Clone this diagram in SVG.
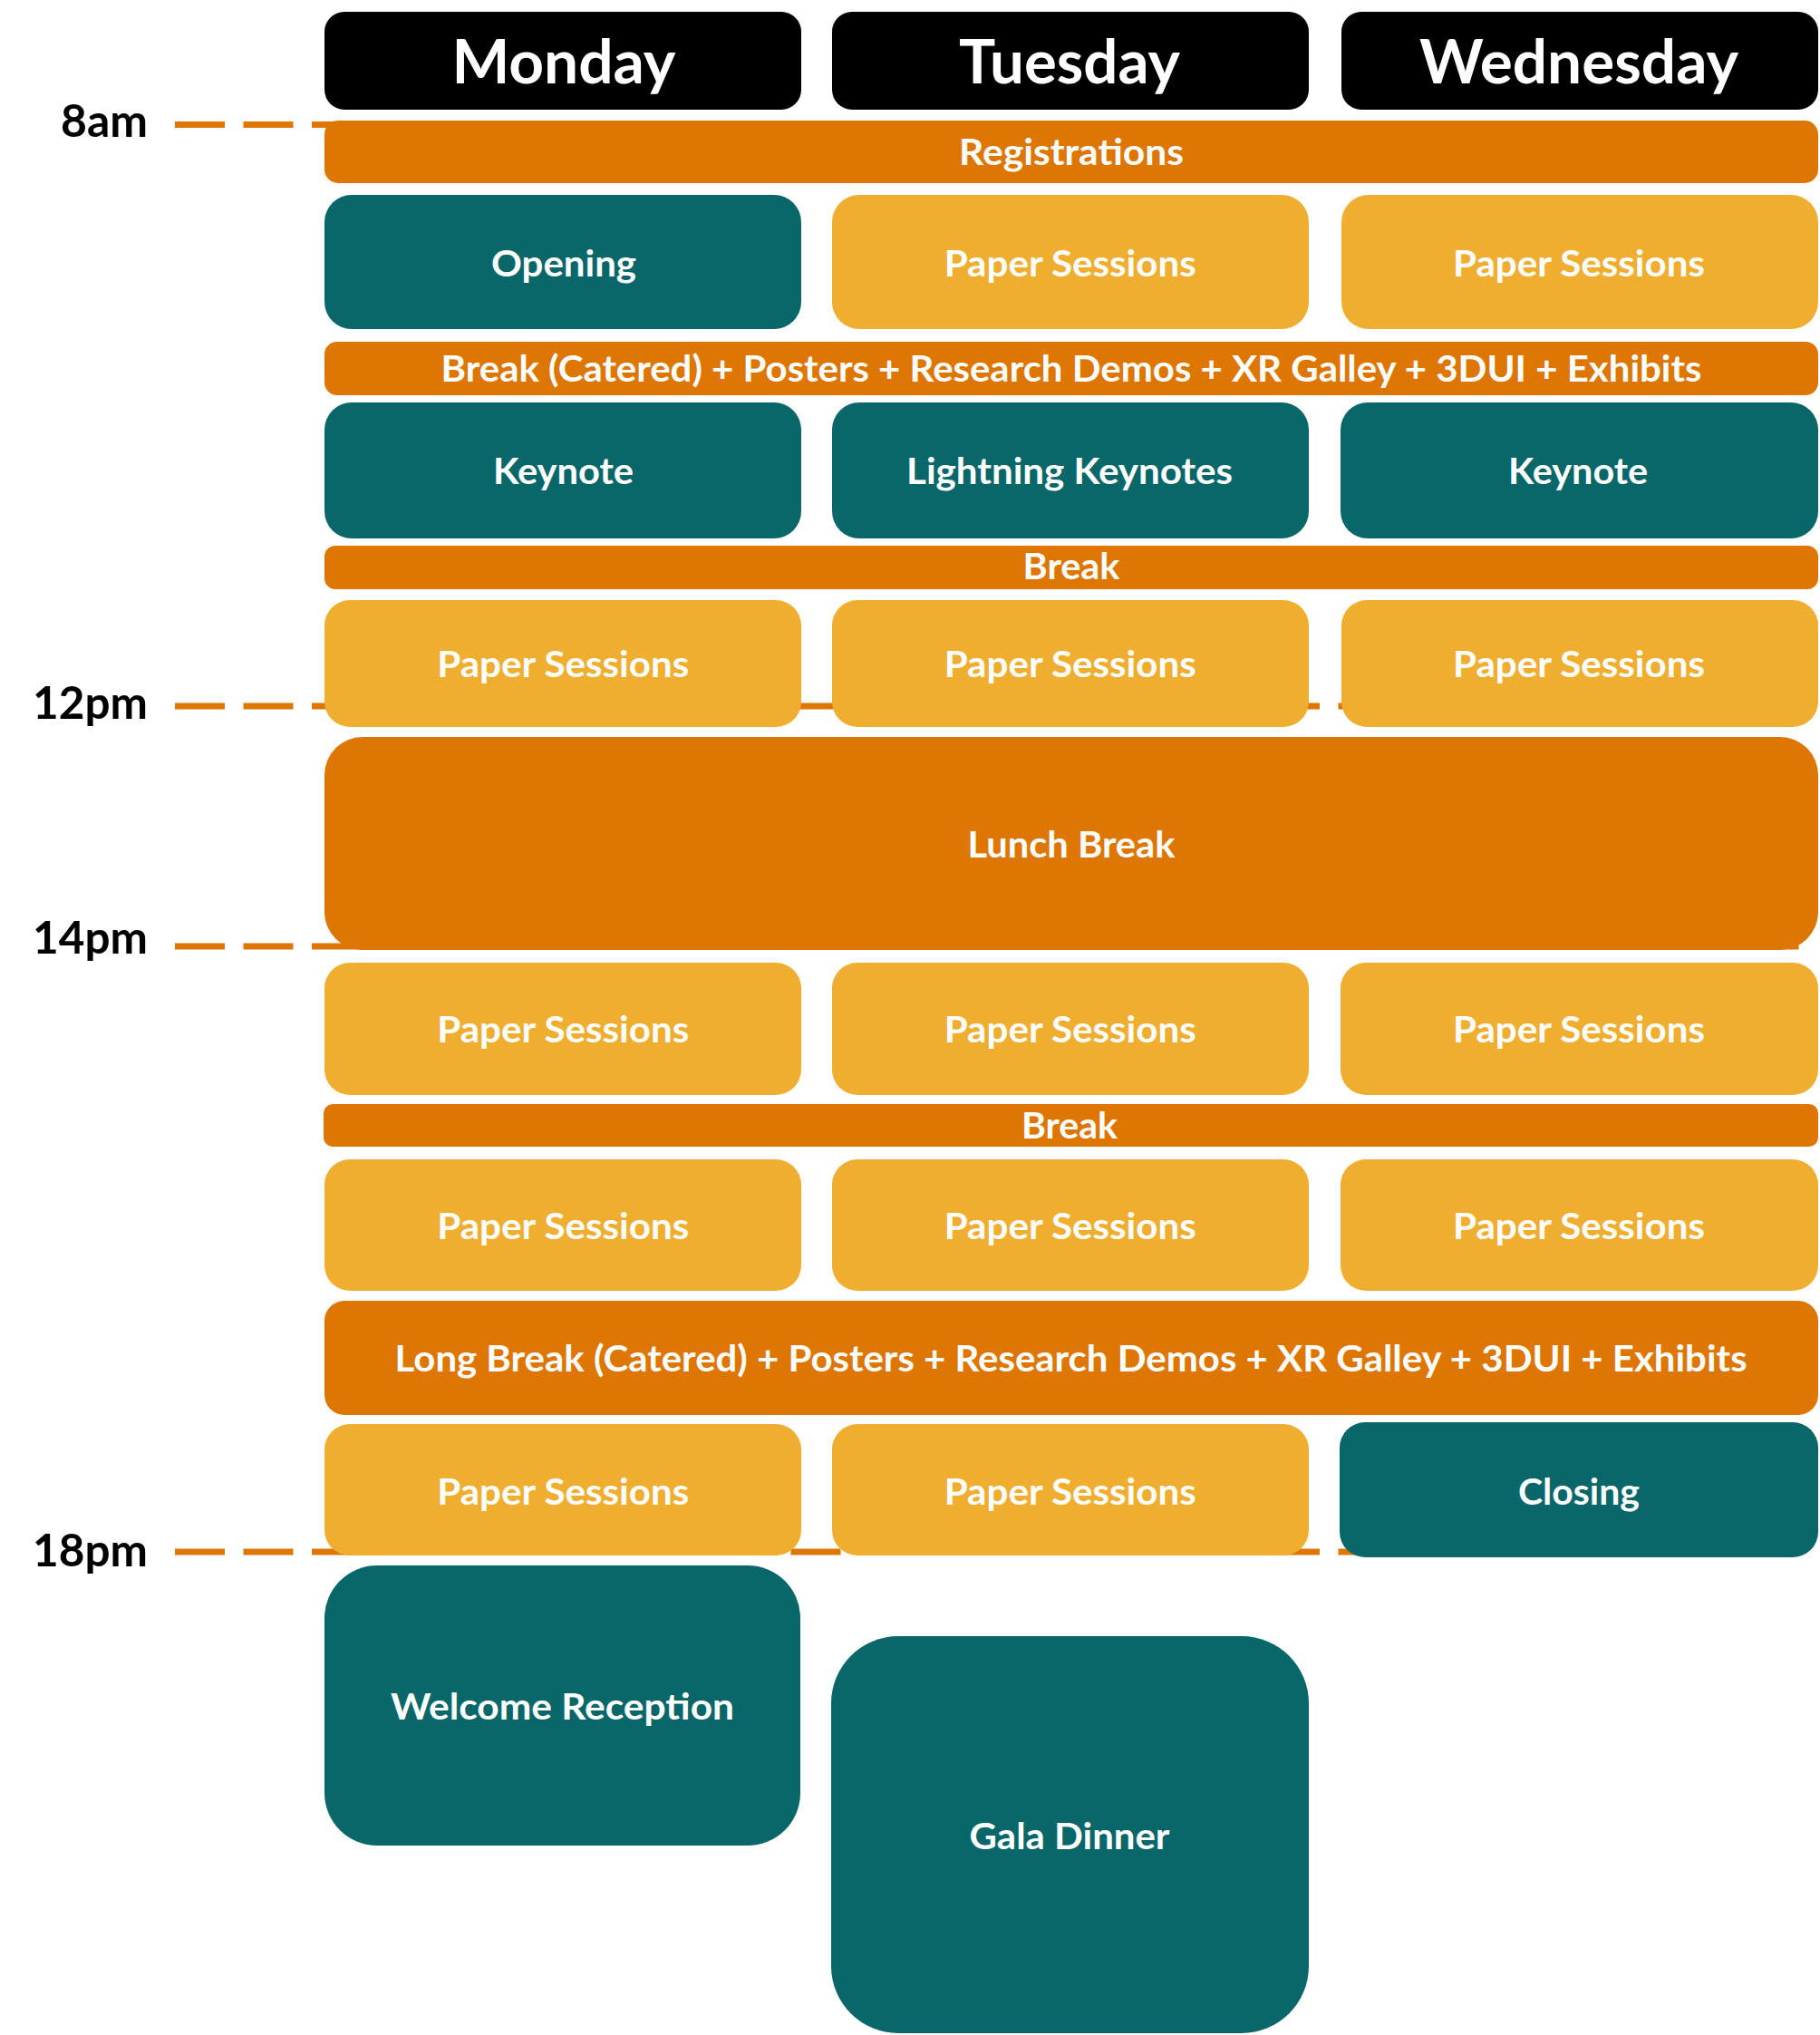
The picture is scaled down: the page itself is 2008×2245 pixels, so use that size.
<svg xmlns="http://www.w3.org/2000/svg" width="2008" height="2245" viewBox="0 0 2008 2245">
<style>
.bg{fill:#ffffff}
.hdrbox{fill:#000000}
.bar{fill:#DE7604}
.paper{fill:#F0AE31}
.teal{fill:#09676A}
.grid{stroke:#DE7604;stroke-width:7;stroke-dasharray:55 20.5;fill:none}
text{font-family:Lato,"Open Sans","Liberation Sans",sans-serif;font-weight:700}
.lbl{fill:#ffffff;font-size:41px;text-anchor:middle}
.hdr{fill:#ffffff;font-size:67px;text-anchor:middle}
.time{fill:#000000;font-size:49px;text-anchor:end}
</style>
<rect class="bg" x="0" y="0" width="2008" height="2245"/>

<g id="timeline">
<line class="grid" x1="193" y1="137.5" x2="1988" y2="137.5"/>
<line class="grid" x1="193" y1="779" x2="1988" y2="779"/>
<line class="grid" x1="193" y1="1044" x2="1988" y2="1044"/>
<line class="grid" x1="193" y1="1712" x2="1988" y2="1712"/>
<text class="time" x="163" y="151" textLength="96" lengthAdjust="spacingAndGlyphs">8am</text>
<text class="time" x="163" y="793" textLength="127" lengthAdjust="spacingAndGlyphs">12pm</text>
<text class="time" x="163" y="1052" textLength="127" lengthAdjust="spacingAndGlyphs">14pm</text>
<text class="time" x="163" y="1728" textLength="127" lengthAdjust="spacingAndGlyphs">18pm</text>
</g>

<g id="connectors"></g>

<g id="hdr-monday"><rect class="hdrbox" x="358" y="13" width="526" height="108" rx="22"/><text class="hdr" x="622" y="91.5" textLength="247" lengthAdjust="spacingAndGlyphs">Monday</text></g>
<g id="hdr-tuesday"><rect class="hdrbox" x="918" y="13" width="526" height="108" rx="22"/><text class="hdr" x="1180" y="91.5" textLength="244" lengthAdjust="spacingAndGlyphs">Tuesday</text></g>
<g id="hdr-wednesday"><rect class="hdrbox" x="1480" y="13" width="526" height="108" rx="22"/><text class="hdr" x="1742" y="91.5" textLength="352" lengthAdjust="spacingAndGlyphs">Wednesday</text></g>

<g id="registrations"><rect class="bar" x="358" y="133" width="1648" height="69" rx="15"/><text class="lbl" x="1182" y="182" textLength="248" lengthAdjust="spacingAndGlyphs">Registrations</text></g>

<g id="mon-opening"><rect class="teal" x="358" y="215" width="526" height="148" rx="30"/><text class="lbl" x="622" y="304.5" textLength="160" lengthAdjust="spacingAndGlyphs">Opening</text></g>
<g id="tue-paper-1"><rect class="paper" x="918" y="215" width="526" height="148" rx="30"/><text class="lbl" x="1180.7" y="304.5" textLength="278" lengthAdjust="spacingAndGlyphs">Paper Sessions</text></g>
<g id="wed-paper-1"><rect class="paper" x="1480" y="215" width="526" height="148" rx="30"/><text class="lbl" x="1742" y="304.5" textLength="278" lengthAdjust="spacingAndGlyphs">Paper Sessions</text></g>

<g id="break-catered"><rect class="bar" x="358" y="377" width="1648" height="59" rx="14"/><text class="lbl" x="1182" y="420.5" textLength="1391" lengthAdjust="spacingAndGlyphs">Break (Catered) + Posters + Research Demos + XR Galley + 3DUI + Exhibits</text></g>

<g id="mon-keynote"><rect class="teal" x="358" y="444" width="526" height="150" rx="30"/><text class="lbl" x="621.5" y="533.5" textLength="155" lengthAdjust="spacingAndGlyphs">Keynote</text></g>
<g id="tue-lightning"><rect class="teal" x="918" y="444" width="526" height="150" rx="30"/><text class="lbl" x="1180" y="533.5" textLength="360" lengthAdjust="spacingAndGlyphs">Lightning Keynotes</text></g>
<g id="wed-keynote"><rect class="teal" x="1479" y="444" width="527" height="150" rx="30"/><text class="lbl" x="1741" y="533.5" textLength="154" lengthAdjust="spacingAndGlyphs">Keynote</text></g>

<g id="break-1"><rect class="bar" x="358" y="602" width="1648" height="48" rx="12"/><text class="lbl" x="1182" y="639" textLength="107" lengthAdjust="spacingAndGlyphs">Break</text></g>

<g id="mon-paper-2"><rect class="paper" x="358" y="662" width="526" height="140" rx="28"/><text class="lbl" x="621.3" y="747" textLength="278" lengthAdjust="spacingAndGlyphs">Paper Sessions</text></g>
<g id="tue-paper-2"><rect class="paper" x="918" y="662" width="526" height="140" rx="28"/><text class="lbl" x="1180.7" y="747" textLength="278" lengthAdjust="spacingAndGlyphs">Paper Sessions</text></g>
<g id="wed-paper-2"><rect class="paper" x="1480" y="662" width="526" height="140" rx="28"/><text class="lbl" x="1742" y="747" textLength="278" lengthAdjust="spacingAndGlyphs">Paper Sessions</text></g>

<g id="lunch"><rect class="bar" x="358" y="813" width="1648" height="235" rx="42"/><text class="lbl" x="1182" y="946" textLength="229" lengthAdjust="spacingAndGlyphs">Lunch Break</text></g>

<g id="mon-paper-3"><rect class="paper" x="358" y="1062" width="526" height="146" rx="28"/><text class="lbl" x="621.3" y="1150" textLength="278" lengthAdjust="spacingAndGlyphs">Paper Sessions</text></g>
<g id="tue-paper-3"><rect class="paper" x="918" y="1062" width="526" height="146" rx="28"/><text class="lbl" x="1180.7" y="1150" textLength="278" lengthAdjust="spacingAndGlyphs">Paper Sessions</text></g>
<g id="wed-paper-3"><rect class="paper" x="1479" y="1062" width="527" height="146" rx="28"/><text class="lbl" x="1742" y="1150" textLength="278" lengthAdjust="spacingAndGlyphs">Paper Sessions</text></g>

<g id="break-2"><rect class="bar" x="357" y="1218" width="1649" height="47" rx="10"/><text class="lbl" x="1180" y="1256" textLength="106" lengthAdjust="spacingAndGlyphs">Break</text></g>

<g id="mon-paper-4"><rect class="paper" x="358" y="1279" width="526" height="145" rx="28"/><text class="lbl" x="621.3" y="1367" textLength="278" lengthAdjust="spacingAndGlyphs">Paper Sessions</text></g>
<g id="tue-paper-4"><rect class="paper" x="918" y="1279" width="526" height="145" rx="28"/><text class="lbl" x="1180.7" y="1367" textLength="278" lengthAdjust="spacingAndGlyphs">Paper Sessions</text></g>
<g id="wed-paper-4"><rect class="paper" x="1479" y="1279" width="527" height="145" rx="28"/><text class="lbl" x="1742" y="1367" textLength="278" lengthAdjust="spacingAndGlyphs">Paper Sessions</text></g>

<g id="long-break"><rect class="bar" x="358" y="1435" width="1648" height="126" rx="22"/><text class="lbl" x="1181.6" y="1513" textLength="1492" lengthAdjust="spacingAndGlyphs">Long Break (Catered) + Posters + Research Demos + XR Galley + 3DUI + Exhibits</text></g>

<g id="mon-paper-5"><rect class="paper" x="358" y="1571" width="526" height="145" rx="28"/><text class="lbl" x="621.3" y="1660" textLength="278" lengthAdjust="spacingAndGlyphs">Paper Sessions</text></g>
<g id="tue-paper-5"><rect class="paper" x="918" y="1571" width="526" height="145" rx="28"/><text class="lbl" x="1180.7" y="1660" textLength="278" lengthAdjust="spacingAndGlyphs">Paper Sessions</text></g>
<g id="wed-closing"><rect class="teal" x="1478" y="1569" width="528" height="149" rx="28"/><text class="lbl" x="1742" y="1660" textLength="134" lengthAdjust="spacingAndGlyphs">Closing</text></g>

<g id="mon-welcome"><rect class="teal" x="358" y="1727" width="525" height="309" rx="58"/><text class="lbl" x="620.5" y="1897" textLength="379" lengthAdjust="spacingAndGlyphs">Welcome Reception</text></g>
<g id="tue-gala"><rect class="teal" x="917" y="1805" width="527" height="438" rx="74"/><text class="lbl" x="1180" y="2040" textLength="221" lengthAdjust="spacingAndGlyphs">Gala Dinner</text></g>
</svg>
